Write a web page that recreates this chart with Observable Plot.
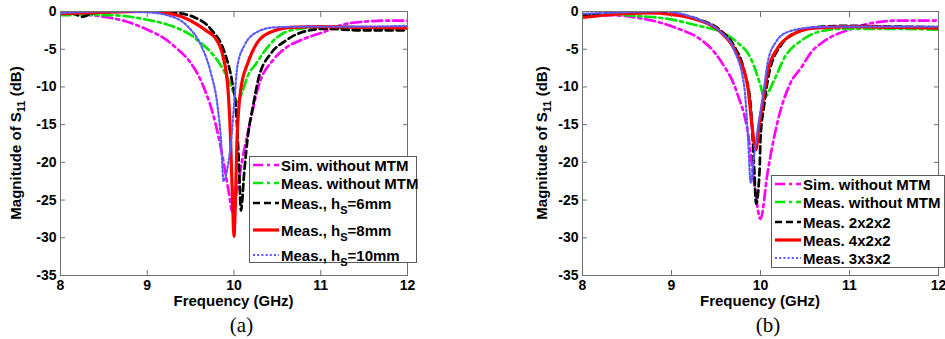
<!DOCTYPE html>
<html>
<head>
<meta charset="utf-8">
<script src="https://cdn.jsdelivr.net/npm/d3@7"></script>
<script src="https://cdn.jsdelivr.net/npm/@observablehq/plot@0.6"></script>
<style>
  body { margin: 0; background: #fff; }
  #wrap { position: relative; width: 945px; height: 339px; overflow: hidden; font-family: "Liberation Sans", Arial, sans-serif; }
  .panel { position: absolute; top: 0; }
  .legend { position: absolute; box-sizing: border-box; border: 1px solid #5a5a5a; background: #fff; font-weight: bold; font-size: 15px; }
  .row { position: absolute; left: 0; height: 0; display: flex; align-items: center; white-space: nowrap; }
  .row svg { display: block; margin-right: 2px; }
  .row sub { font-size: 11px; vertical-align: -5px; line-height: 0; }
  .cap { position: absolute; font-family: "Liberation Serif", "Times New Roman", serif; font-size: 21px; line-height: 1; transform: translate(-50%, -50%); }
</style>
</head>
<body>
<div id="wrap"></div>
<script>
// S11 magnitude (dB) against frequency (GHz)
const xTicks = [8, 9, 10, 11, 12];
const yTicks = [0, -5, -10, -15, -20, -25, -30, -35];

// (a) varying substrate height h_S
const fSimA = [8.0, 8.25, 8.5, 8.75, 9.0, 9.2, 9.35, 9.5, 9.65, 9.79, 9.88, 9.94, 9.98, 10.03, 10.09, 10.18, 10.28, 10.46, 10.6, 10.77, 11.04, 11.27, 11.5, 11.75, 12.0];
const dbSimA = [-0.3, -0.4, -0.7, -1.3, -2.4, -3.6, -5.0, -6.8, -10.0, -15.0, -20.0, -24.0, -26.5, -24.0, -20.0, -15.0, -10.0, -6.3, -4.8, -3.8, -2.7, -1.7, -1.35, -1.2, -1.2];
const fMeasA = [8.0, 8.3, 8.6, 9.0, 9.3, 9.5, 9.6, 9.7, 9.81, 9.89, 9.97, 10.04, 10.1, 10.16, 10.25, 10.33, 10.5, 10.74, 11.0, 11.5, 12.0];
const dbMeasA = [-0.5, -0.45, -0.5, -1.1, -2.0, -3.1, -4.0, -5.0, -6.5, -8.0, -10.0, -12.0, -10.5, -8.5, -7.0, -5.6, -3.4, -2.3, -2.1, -2.2, -2.3];
const fH6 = [8.0, 8.15, 8.25, 8.35, 8.5, 9.0, 9.3, 9.54, 9.73, 9.89, 9.98, 10.02, 10.06, 10.08, 10.12, 10.16, 10.22, 10.28, 10.43, 10.58, 10.77, 11.04, 11.5, 12.0];
const dbH6 = [-0.3, -0.3, -0.7, -0.3, -0.1, 0.0, -0.15, -0.75, -2.3, -5.4, -9.4, -12.5, -21.0, -26.4, -21.0, -16.5, -12.5, -9.0, -5.5, -4.0, -2.8, -2.3, -2.5, -2.5];
const fH8 = [8.0, 8.5, 9.0, 9.16, 9.46, 9.7, 9.77, 9.87, 9.93, 9.96, 9.985, 10.0, 10.015, 10.035, 10.08, 10.16, 10.27, 10.43, 10.66, 11.0, 11.5, 12.0];
const dbH8 = [-0.3, -0.1, 0.0, -0.1, -1.0, -2.7, -3.3, -5.8, -10.2, -16.8, -25.7, -29.8, -25.7, -16.8, -10.2, -6.8, -4.1, -2.7, -2.1, -2.0, -2.1, -2.2];
const fH10 = [8.0, 8.5, 9.0, 9.23, 9.46, 9.62, 9.73, 9.81, 9.85, 9.88, 9.92, 9.97, 10.0, 10.04, 10.12, 10.27, 10.47, 11.0, 11.5, 12.0];
const dbH10 = [-0.2, 0.0, -0.1, -0.5, -1.9, -4.5, -8.0, -12.5, -17.0, -22.5, -21.0, -16.8, -12.5, -7.2, -4.5, -2.7, -2.1, -2.0, -2.0, -1.9];
const labelsA = ["Sim. without MTM", "Meas. without MTM", "Meas., h{S}=6mm", "Meas., h{S}=8mm", "Meas., h{S}=10mm"];

// (b) varying unit-cell arrangement
const fSimB = [8.0, 8.35, 8.6, 8.91, 9.1, 9.29, 9.55, 9.74, 9.86, 9.93, 10.0, 10.08, 10.19, 10.34, 10.46, 10.57, 10.72, 11.02, 11.32, 11.58, 12.0];
const dbSimB = [-0.5, -0.5, -0.8, -1.6, -2.4, -3.4, -6.5, -10.9, -16.2, -22.8, -27.5, -21.3, -14.7, -9.4, -7.4, -5.4, -3.9, -2.3, -1.4, -1.2, -1.2];
const fMeasB = [8.0, 8.35, 8.6, 8.91, 9.1, 9.29, 9.55, 9.74, 9.89, 10.0, 10.04, 10.15, 10.27, 10.46, 10.64, 10.9, 11.5, 12.0];
const dbMeasB = [-0.6, -0.4, -0.6, -0.9, -1.3, -1.85, -2.7, -4.1, -6.2, -9.8, -11.4, -9.2, -6.1, -3.85, -2.75, -2.3, -2.3, -2.4];
const f222 = [8.0, 8.35, 8.73, 9.0, 9.29, 9.55, 9.7, 9.82, 9.89, 9.93, 9.95, 9.99, 10.0, 10.04, 10.1, 10.23, 10.42, 10.7, 11.0, 11.5, 12.0];
const db222 = [-0.5, -0.2, -0.1, -0.3, -1.0, -2.5, -4.5, -8.0, -12.5, -21.0, -25.5, -21.0, -16.8, -12.5, -8.0, -4.5, -2.7, -2.0, -1.9, -2.0, -2.1];
const f422 = [8.0, 8.35, 8.73, 9.0, 9.29, 9.55, 9.74, 9.86, 9.9, 9.95, 9.98, 10.02, 10.08, 10.19, 10.34, 10.6, 11.0, 11.5, 12.0];
const db422 = [-0.8, -0.4, -0.2, -0.4, -1.1, -2.7, -5.8, -10.2, -14.7, -18.3, -15.5, -12.5, -8.0, -4.9, -3.2, -2.2, -2.0, -2.1, -2.2];
const f332 = [8.0, 8.5, 8.9, 9.29, 9.55, 9.7, 9.82, 9.86, 9.89, 9.93, 9.98, 10.04, 10.08, 10.17, 10.31, 10.6, 11.0, 12.0];
const db332 = [-0.3, -0.1, 0.0, -1.0, -2.7, -5.0, -10.2, -16.8, -22.7, -19.0, -14.7, -10.2, -6.8, -4.1, -2.7, -2.1, -2.0, -2.0];
const labelsB = ["Sim. without MTM", "Meas. without MTM", "Meas. 2x2x2", "Meas. 4x2x2", "Meas. 3x3x2"];

// line styles shared by both panels, in legend order
const lineStyles = [
  {stroke: "#ff00ff", width: 2.7, dash: "10,4,3,4"},
  {stroke: "#00e600", width: 2.7, dash: "10,4,3,4"},
  {stroke: "#000000", width: 2.7, dash: "7,4"},
  {stroke: "#ff0000", width: 3.2, dash: null},
  {stroke: "#5a5aff", width: 2.2, dash: "2,2.2"}
];

const panels = [
  {
    series: [[fSimA, dbSimA], [fMeasA, dbMeasA], [fH6, dbH6], [fH8, dbH8], [fH10, dbH10]],
    labels: labelsA, caption: "(a)",
    left: 0, width: 470, marginLeft: 60, marginRight: 63, yLabelGap: 39,
    legend: {left: 249, top: 156, width: 168, height: 107, rows: [9, 27, 47, 74, 99]},
    capShift: 8
  },
  {
    series: [[fSimB, dbSimB], [fMeasB, dbMeasB], [f222, db222], [f422, db422], [f332, db332]],
    labels: labelsB, caption: "(b)",
    left: 480, width: 465, marginLeft: 102, marginRight: 7, yLabelGap: 35,
    legend: {left: 771, top: 175, width: 174, height: 93, rows: [9, 27, 47, 65, 83]},
    capShift: 8
  }
];

const wrap = document.getElementById("wrap");
const H = 310, MT = 11, MB = 35;
const axisGray = "#707070";

function sampleLine(st) {
  const ns = "http://www.w3.org/2000/svg";
  const s = document.createElementNS(ns, "svg");
  s.setAttribute("width", 26); s.setAttribute("height", 8);
  const l = document.createElementNS(ns, "line");
  l.setAttribute("x1", 0); l.setAttribute("x2", 26); l.setAttribute("y1", 4); l.setAttribute("y2", 4);
  l.setAttribute("stroke", st.stroke); l.setAttribute("stroke-width", st.width);
  if (st.dash) l.setAttribute("stroke-dasharray", st.dash);
  s.appendChild(l);
  return s;
}

for (const p of panels) {
  const marks = p.series.map(([fs, dbs], i) => {
    const st = lineStyles[i];
    return Plot.line(fs.map((f, j) => ({f, db: dbs[j]})), {
      x: "f", y: "db", stroke: st.stroke, strokeWidth: st.width,
      strokeDasharray: st.dash, curve: "monotone-x", clip: true
    });
  });

  const chart = Plot.plot({
    width: p.width, height: H,
    marginLeft: p.marginLeft, marginRight: p.marginRight, marginTop: MT, marginBottom: MB,
    style: {fontFamily: "Liberation Sans, Arial, sans-serif", fontSize: "14px", fontWeight: "bold", color: "black", background: "white"},
    x: {domain: [8, 12], label: null},
    y: {domain: [-35, 0], label: null},
    marks: [
      ...marks,
      Plot.frame({stroke: axisGray}),
      Plot.axisX({anchor: "bottom", ticks: xTicks, tickSize: -5, tickPadding: 10, tickFormat: d => String(d), stroke: axisGray, fill: "black", label: null}),
      Plot.axisX({anchor: "top", ticks: xTicks, tickSize: -5, tickFormat: () => "", stroke: axisGray, label: null}),
      Plot.axisY({anchor: "left", ticks: yTicks, tickSize: -5, tickPadding: 9, tickFormat: d => String(d), stroke: axisGray, fill: "black", label: null}),
      Plot.axisY({anchor: "right", ticks: yTicks, tickSize: -5, tickFormat: () => "", stroke: axisGray, label: null})
    ]
  });

  const x = chart.scale("x"), y = chart.scale("y");
  const x0 = x.apply(8), x1 = x.apply(12), y0 = y.apply(0), y1 = y.apply(-35);
  const svg = d3.select(chart);

  svg.append("text")
    .attr("x", (x0 + x1) / 2).attr("y", y1 + 31)
    .attr("text-anchor", "middle").attr("font-size", 15).attr("font-weight", "bold")
    .text("Frequency (GHz)");

  const yl = svg.append("text")
    .attr("transform", `translate(${x0 - p.yLabelGap},${(y0 + y1) / 2}) rotate(-90)`)
    .attr("text-anchor", "middle").attr("font-size", 15).attr("font-weight", "bold");
  yl.append("tspan").text("Magnitude of S");
  yl.append("tspan").attr("font-size", 11).attr("dy", 4).text("11");
  yl.append("tspan").attr("dy", -4).text(" (dB)");

  const holder = document.createElement("div");
  holder.className = "panel";
  holder.style.left = p.left + "px";
  holder.appendChild(chart);
  wrap.appendChild(holder);

  // legend box
  const lg = document.createElement("div");
  lg.className = "legend";
  Object.assign(lg.style, {left: p.legend.left + "px", top: p.legend.top + "px", width: p.legend.width + "px", height: p.legend.height + "px"});
  p.labels.forEach((lab, i) => {
    const row = document.createElement("div");
    row.className = "row";
    row.style.top = (p.legend.rows[i] - 1) + "px";
    row.style.left = "3px";
    row.appendChild(sampleLine(lineStyles[i]));
    const span = document.createElement("span");
    span.innerHTML = lab.replace(/\{(.*?)\}/g, "<sub>$1</sub>");
    row.appendChild(span);
    lg.appendChild(row);
  });
  wrap.appendChild(lg);

  const cap = document.createElement("div");
  cap.className = "cap";
  cap.textContent = p.caption;
  cap.style.left = (p.left + (x0 + x1) / 2 + p.capShift) + "px";
  cap.style.top = "325px";
  wrap.appendChild(cap);
}
</script>
</body>
</html>
